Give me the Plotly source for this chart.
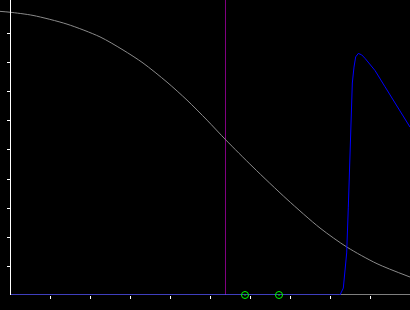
import plotly.graph_objects as go

# grey decreasing curve
grey_x = [-0.25, 0.0, 0.575, 1.425, 2.25, 2.825, 3.325, 3.925, 4.425, 4.925, 5.4, 6.075, 6.925, 7.75, 8.425, 9.175, 10.0]
grey_y = [0.978, 0.975, 0.964, 0.934, 0.890, 0.845, 0.800, 0.734, 0.672, 0.603, 0.534, 0.441, 0.330, 0.231, 0.165, 0.108, 0.062]

# blue curve
blue_x = [0.0, 8.25, 8.333, 8.375, 8.417, 8.458, 8.492, 8.525, 8.558, 8.6, 8.642, 8.708, 8.792, 8.875, 8.958, 9.125, 9.375, 9.625, 9.875, 10.0]
blue_y = [0.0, 0.0, 0.024, 0.076, 0.145, 0.303, 0.466, 0.638, 0.731, 0.786, 0.821, 0.833, 0.828, 0.816, 0.803, 0.774, 0.718, 0.662, 0.603, 0.579]

# green markers
green_x = [5.875, 6.725]
green_y = [0.0, 0.0]

# vertical marker line
vline_x = 5.3875

x_ticks = [1, 2, 3, 4, 5, 6, 7, 8, 9]
y_ticks = [0.1, 0.2, 0.3, 0.4, 0.5, 0.6, 0.7, 0.8, 0.9]

fig = go.Figure()
fig.add_trace(go.Scatter(x=grey_x, y=grey_y, mode="lines",
                         line=dict(color="#8a8a8a", width=1, shape="spline", smoothing=0.8),
                         showlegend=False, hoverinfo="skip"))
fig.add_trace(go.Scatter(x=blue_x, y=blue_y, mode="lines",
                         line=dict(color="#0000ff", width=1),
                         showlegend=False, hoverinfo="skip"))
fig.add_trace(go.Scatter(x=green_x, y=green_y, mode="markers",
                         marker=dict(symbol="circle-open-dot", size=7, color="#00ff00",
                                     line=dict(width=1, color="#00ff00")),
                         cliponaxis=False, showlegend=False, hoverinfo="skip"))

fig.add_shape(type="line", xref="x", yref="paper", x0=vline_x, x1=vline_x, y0=0, y1=1,
              line=dict(color="#800080", width=1), layer="below")
fig.add_shape(type="line", xref="x", yref="y", x0=0, x1=10, y0=0, y1=0,
              line=dict(color="#ffffff", width=1), layer="below")

fig.update_layout(
    width=410, height=310,
    margin=dict(l=0, r=0, t=0, b=15),
    paper_bgcolor="#000000", plot_bgcolor="#000000",
    xaxis=dict(range=[-0.25, 10], tickvals=x_ticks, ticks="outside", ticklen=3,
               tickwidth=1, tickcolor="#ffffff", showticklabels=False,
               showgrid=False, zeroline=False, showline=False),
    yaxis=dict(range=[0, 1.0172], tickvals=y_ticks, ticks="outside", ticklen=3,
               tickwidth=1, tickcolor="#ffffff", showticklabels=False,
               showgrid=False, zeroline=False, showline=True, linecolor="#ffffff",
               linewidth=1, anchor="free", position=10/410),
)

fig.write_html("out.html")
